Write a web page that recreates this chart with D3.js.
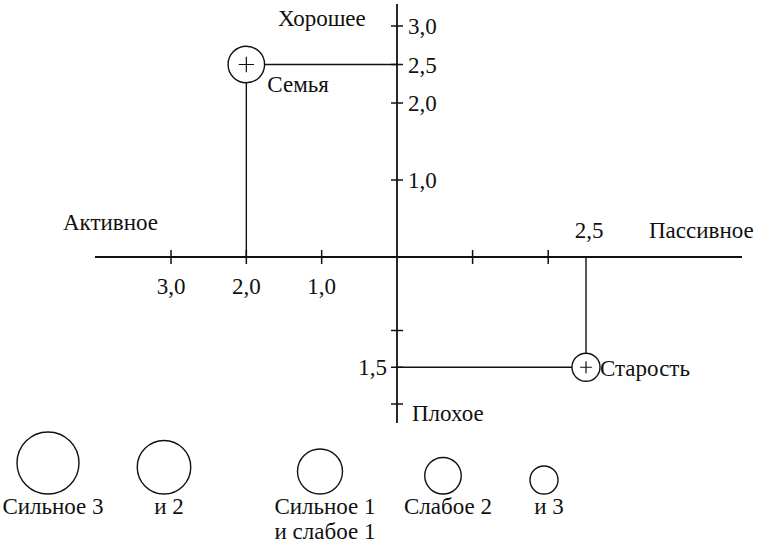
<!DOCTYPE html>
<html>
<head>
<meta charset="utf-8">
<script src="https://cdn.jsdelivr.net/npm/d3@7"></script>
<style>
body { margin: 0; background: #fff; }
</style>
</head>
<body>
<div id="chart"></div>
<script>
// Data

// points: activity < 0 is "Активное", rating < 0 is "Плохое"
var pointNames = ["Семья", "Старость"];
var pointActivity = [-2.0, 2.5];
var pointRating = [2.5, -1.5];
var pointStrength = [2, 1];

var xTicks = [-3, -2, -1, 1, 2];
var xTickLabels = ["3,0", "2,0", "1,0", "", ""];
var yTicks = [3, 2.5, 2, 1, -1, -1.5, -2];
var yTickLabels = ["3,0", "2,5", "2,0", "1,0", "", "1,5", ""];

// legend: strength 5 = "Сильное 3" ... 1 = "Слабое 3"
var legendStrength = [5, 4, 3, 2, 1];
var legendLabels = [["Сильное 3"], ["и 2"], ["Сильное 1", "и слабое 1"], ["Слабое 2"], ["и 3"]];

// Layout
var svgWidth = 765;
var svgHeight = 543;
var fontFamily = "'Liberation Serif', Tinos, 'Noto Serif', 'DejaVu Serif', FreeSerif, 'Noto Serif CJK SC', 'Noto Serif CJK JP', Times, serif";

var svg = d3.select("#chart")
    .append("svg")
    .attr("width", svgWidth)
    .attr("height", svgHeight)
    .attr("font-family", fontFamily)
    .attr("font-size", 23)
    .attr("fill", "#111");

var xScale = d3.scaleLinear()
    .domain([-3, 0, 2.5])
    .range([171, 397, 586]);

var yScale = d3.scaleLinear()
    .domain([-2, 0, 3])
    .range([404, 257, 26]);

var rScale = d3.scaleLinear()
    .domain([1, 5])
    .range([14, 31]);

var x0 = xScale(0);
var y0 = yScale(0);

var ink = "#111";

//axes
svg.append("line")
    .attr("x1", x0).attr("x2", x0)
    .attr("y1", 4).attr("y2", 423)
    .attr("stroke", ink).attr("stroke-width", 1.8);

svg.append("line")
    .attr("x1", 95).attr("x2", 742)
    .attr("y1", y0).attr("y2", y0)
    .attr("stroke", ink).attr("stroke-width", 1.8);

// x ticks cross the axis
svg.selectAll(".xtick")
    .data(xTicks)
    .enter()
    .append("line")
    .attr("class", "xtick")
    .attr("x1", d => xScale(d)).attr("x2", d => xScale(d))
    .attr("y1", y0 - 7).attr("y2", y0 + 7)
    .attr("stroke", ink).attr("stroke-width", 1.5);

svg.selectAll(".xlabel")
    .data(xTicks)
    .enter()
    .append("text")
    .attr("class", "xlabel")
    .attr("x", d => xScale(d))
    .attr("y", y0 + 37)
    .attr("text-anchor", "middle")
    .text((d, i) => xTickLabels[i]);

// y ticks
svg.selectAll(".ytick")
    .data(yTicks)
    .enter()
    .append("line")
    .attr("class", "ytick")
    .attr("x1", x0 - 6).attr("x2", x0 + 6)
    .attr("y1", d => yScale(d)).attr("y2", d => yScale(d))
    .attr("stroke", ink).attr("stroke-width", 1.5);

svg.selectAll(".ylabel")
    .data(yTicks)
    .enter()
    .append("text")
    .attr("class", "ylabel")
    .attr("x", d => d > 0 ? x0 + 11 : x0 - 10)
    .attr("y", d => yScale(d) + 8)
    .attr("text-anchor", d => d > 0 ? "start" : "end")
    .text((d, i) => yTickLabels[i]);

// axis names
svg.append("text").attr("x", 278).attr("y", 26).text("Хорошее");
svg.append("text").attr("x", 412).attr("y", 421).text("Плохое");
svg.append("text").attr("x", 158).attr("y", 230).attr("text-anchor", "end").text("Активное");
svg.append("text").attr("x", 649).attr("y", 238).text("Пассивное");

// points with guide lines to the axes
var labelOffsets = [[21, 27], [14, 9]];

pointNames.forEach(function(name, i) {
    var cx = xScale(pointActivity[i]);
    var cy = yScale(pointRating[i]);
    var r = rScale(pointStrength[i]);
    var g = svg.append("g");

    var hx = cx < x0 ? cx + r : cx - r;
    g.append("line")
        .attr("x1", hx).attr("x2", x0)
        .attr("y1", cy).attr("y2", cy)
        .attr("stroke", ink).attr("stroke-width", 1.4);

    var vy = cy < y0 ? cy + r : cy - r;
    g.append("line")
        .attr("x1", cx).attr("x2", cx)
        .attr("y1", vy).attr("y2", y0)
        .attr("stroke", ink).attr("stroke-width", 1.4);

    g.append("circle")
        .attr("cx", cx).attr("cy", cy).attr("r", r)
        .attr("fill", "#fff")
        .attr("stroke", ink).attr("stroke-width", 1.4);

    var p = r * 0.42;
    g.append("path")
        .attr("d", `M${cx - p},${cy}H${cx + p}M${cx},${cy - p}V${cy + p}`)
        .attr("stroke", ink).attr("stroke-width", 1.2);

    g.append("text")
        .attr("x", cx + labelOffsets[i][0])
        .attr("y", cy + labelOffsets[i][1])
        .text(name);

    // value label above the passive axis
    if (pointActivity[i] > 0) {
        svg.append("text")
            .attr("x", cx + 3)
            .attr("y", 238)
            .attr("text-anchor", "middle")
            .text(pointActivity[i].toFixed(1).replace(".", ","));
    }
});

// legend
var legendX = [48, 164, 320, 443, 544];
var legendBottom = 494;

var legend = svg.selectAll(".legend")
    .data(legendStrength)
    .enter()
    .append("g")
    .attr("class", "legend");

legend.append("circle")
    .attr("cx", (d, i) => legendX[i])
    .attr("cy", d => legendBottom - rScale(d))
    .attr("r", d => rScale(d))
    .attr("fill", "none")
    .attr("stroke", ink).attr("stroke-width", 1.4);

legend.each(function(d, i) {
    var t = d3.select(this).append("text")
        .attr("text-anchor", "middle");
    legendLabels[i].forEach(function(line, j) {
        t.append("tspan")
            .attr("x", legendX[i] + 5)
            .attr("y", 514 + j * 25)
            .text(line);
    });
});
</script>
</body>
</html>
